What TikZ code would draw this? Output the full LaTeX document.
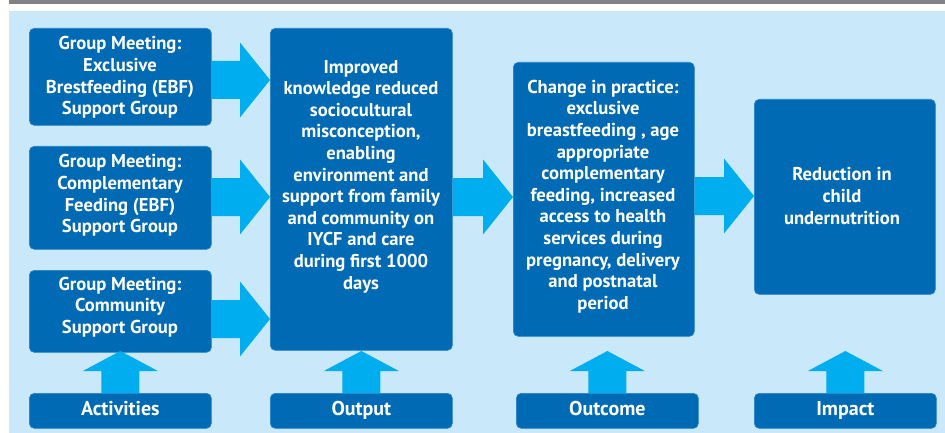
\documentclass[tikz,border=0pt]{standalone}
\usepackage{fontspec}
\setmainfont{PT Sans}
\usetikzlibrary{calc}
\definecolor{boxc}{HTML}{006AB4}
\definecolor{boxedge}{HTML}{2682C6}
\definecolor{arrowc}{HTML}{00AEEF}
\definecolor{bgc}{HTML}{C9E9FA}
\definecolor{barc}{HTML}{808285}
\newcommand{\rarr}[3]{%
  \path (#1.east |- 0,#3) coordinate (rs) (#2.west |- 0,#3) coordinate (re);
  \fill[arr] ($(rs)+(0,-19)$) -- ($(re)+(-30,-19)$) -- ($(re)+(-30,-37.5)$) -- (re)
    -- ($(re)+(-30,37.5)$) -- ($(re)+(-30,19)$) -- ($(rs)+(0,19)$) -- cycle;}
\newcommand{\uarr}[1]{%
  \path (#1.north) coordinate (us);
  \fill[arr] ($(us)+(-19,0)$) -- ($(us)+(-19,-22)$) -- ($(us)+(-37.5,-22)$) -- ($(us)+(0,-42)$)
    -- ($(us)+(37.5,-22)$) -- ($(us)+(19,-22)$) -- ($(us)+(19,0)$) -- cycle;}
\begin{document}
\begin{tikzpicture}[x=1pt,y=-1pt,
  box/.style={draw=boxedge, line width=0.7pt, fill=boxc, rounded corners=5pt, anchor=north west, inner sep=0pt},
  txt/.style={text=white, font=\bfseries\fontsize{18.6}{21.6}\selectfont, align=center, inner sep=0pt},
  lbl/.style={text=white, font=\bfseries\fontsize{20}{22}\selectfont, text height=13pt, text depth=4pt},
  arr/.style={fill=arrowc}]
\useasboundingbox (0,0) rectangle (945,433);
\fill[white] (0,0) rectangle (945,433);
\fill[barc] (9,0) rectangle (945,4.5);
\fill[bgc] (9,11.5) rectangle (945,433);

% boxes
\node[box, minimum width=182pt, minimum height=97pt] (a1) at (29,28) {};
\node[box, minimum width=182pt, minimum height=103pt] (a2) at (29,146) {};
\node[box, minimum width=182pt, minimum height=82pt] (a3) at (29,270) {};
\node[box, minimum width=182pt, minimum height=322pt] (out) at (270,28) {};
\node[box, minimum width=181pt, minimum height=274pt] (oc) at (513,62) {};
\node[box, minimum width=181pt, minimum height=195pt] (im) at (754,99) {};
% labels
\node[box, lbl, minimum width=182pt, minimum height=35pt] (l1) at (29,393) {Activities};
\node[box, lbl, minimum width=182pt, minimum height=35pt] (l2) at (270,393) {Output};
\node[box, lbl, minimum width=182pt, minimum height=35pt] (l3) at (516,393) {Outcome};
\node[box, lbl, minimum width=182pt, minimum height=35pt] (l4) at (754,393) {Impact};

% texts
\node[txt] (a1t) at (120,77.5) {Group Meeting:\\Exclusive\\Brestfeeding (EBF)\\Support Group};
\node[txt] (a2t) at (120,195.5) {Group Meeting:\\Complementary\\Feeding (EBF)\\Support Group};
\node[txt] (a3t) at (120,307) {Group Meeting:\\Community\\Support Group};
\node[txt] (outt) at (361,176.5) {Improved\\knowledge reduced\\sociocultural\\misconception,\\enabling\\environment and\\support from family\\and community on\\IYCF and care\\during first 1000\\days};
\node[txt] (oct) at (603,196.5) {Change in practice:\\exclusive\\breastfeeding , age\\appropriate\\complementary\\feeding, increased\\access to health\\services during\\pregnancy, delivery\\and postnatal\\period};
\node[txt] (imt) at (842,196) {Reduction in\\child\\undernutrition};

% arrows
\rarr{a1}{out}{80}
\rarr{a2}{out}{197}
\rarr{a3}{out}{319}
\rarr{out}{oc}{197}
\rarr{oc}{im}{196}
\uarr{l1}
\uarr{l2}
\uarr{l3}
\uarr{l4}
\end{tikzpicture}
\end{document}
